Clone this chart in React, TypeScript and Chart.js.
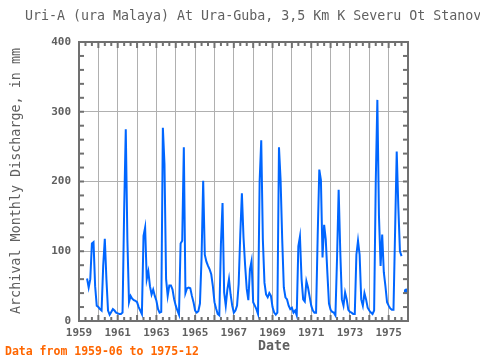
import React, { useEffect, useRef } from "react";
import { Chart, registerables } from "chart.js";

Chart.register(...registerables);

const TITLE = "Uri-A (ura Malaya) At Ura-Guba, 3,5 Km K Severu Ot Stanovishcha Ura-Guba";
const Y_TITLE = "Archival Monthly Discharge, in mm";
const X_TITLE = "Date";
const NOTE = "Data from 1959-06 to 1975-12";

const START_YEAR = 1959;
const START_MONTH_INDEX = 5; // June
const X_MIN = 1959;
const X_MAX = 1976;
const Y_MAX = 400;

const v1959 = [61, 48, 60, 111, 113, 50, 22];
const v1960 = [20, 17, 15, 79, 118, 60, 15, 9, 13, 17, 15, 12];
const v1961 = [11, 10, 10, 12, 159, 275, 117, 27, 36, 32, 30, 29];
const v1962 = [27, 20, 15, 10, 122, 134, 60, 71, 50, 38, 45, 36];
const v1963 = [29, 17, 12, 13, 277, 225, 60, 36, 51, 51, 45, 31];
const v1964 = [22, 15, 9, 111, 115, 249, 40, 47, 48, 47, 36, 27];
const v1965 = [15, 12, 14, 25, 91, 201, 95, 85, 79, 74, 67, 50];
const v1966 = [27, 18, 10, 8, 110, 169, 41, 22, 45, 60, 38, 22];
const v1967 = [12, 15, 22, 53, 124, 183, 120, 80, 46, 30, 74, 86];
const v1968 = [27, 22, 17, 10, 200, 259, 117, 55, 38, 34, 40, 36];
const v1969 = [20, 12, 9, 12, 249, 202, 117, 48, 34, 31, 22, 17];
const v1970 = [19, 12, 15, 8, 107, 121, 60, 31, 28, 57, 48, 35];
const v1971 = [22, 15, 12, 12, 122, 217, 202, 91, 138, 117, 69, 25];
const v1972 = [16, 13, 12, 8, 90, 188, 100, 31, 22, 41, 31, 16];
const v1973 = [13, 12, 10, 10, 95, 115, 95, 31, 22, 40, 31, 19];
const v1974 = [15, 12, 10, 15, 198, 317, 150, 79, 124, 70, 50, 27];
const v1975 = [22, 18, 16, 16, 129, 243, 164, 100, 93, null, null, 43];

const monthly: (number | null)[] = [
  ...v1959, ...v1960, ...v1961, ...v1962, ...v1963, ...v1964, ...v1965, ...v1966,
  ...v1967, ...v1968, ...v1969, ...v1970, ...v1971, ...v1972, ...v1973, ...v1974, ...v1975,
];

const MONO = "'DejaVu Sans Mono', 'Liberation Mono', monospace";
const TEXT_GRAY = "#606060";
const AXIS_GRAY = "#707070";
const GRID_GRAY = "#b0b0b0";
const LINE_BLUE = "#0066ff";

const decorPlugin = {
  id: "decor",
  afterDraw(chart: any) {
    const { ctx, chartArea, scales } = chart;
    const { left, right, top, bottom } = chartArea;
    const xs = scales.x;
    const ys = scales.y;
    ctx.save();
    ctx.strokeStyle = AXIS_GRAY;
    ctx.lineWidth = 2;
    const seg = (x1: number, y1: number, x2: number, y2: number) => {
      ctx.beginPath();
      ctx.moveTo(x1, y1);
      ctx.lineTo(x2, y2);
      ctx.stroke();
    };
    for (let v = 0; v <= Y_MAX; v += 20) {
      const py = ys.getPixelForValue(v);
      seg(left, py, left + 5, py);
      seg(right - 5, py, right, py);
    }
    for (let k = 0; k <= (X_MAX - X_MIN) * 3; k++) {
      const px = xs.getPixelForValue(X_MIN + k / 3);
      const len = k % 3 === 0 ? 6 : 4;
      seg(px, top, px, top + len);
      seg(px, bottom - len, px, bottom);
    }
    ctx.strokeRect(left, top, right - left, bottom - top);

    ctx.fillStyle = TEXT_GRAY;
    ctx.font = `13.3px ${MONO}`;
    ctx.textAlign = "left";
    ctx.textBaseline = "middle";
    ctx.fillText(TITLE, 25, 17);

    ctx.font = `bold 13.3px ${MONO}`;
    ctx.textAlign = "center";
    ctx.fillText(X_TITLE, 274, 347);

    ctx.save();
    ctx.translate(17, 181);
    ctx.rotate(-Math.PI / 2);
    ctx.font = `13.4px ${MONO}`;
    ctx.fillText(Y_TITLE, 0, 0);
    ctx.restore();

    ctx.fillStyle = "#ff6600";
    ctx.font = `bold 11.5px ${MONO}`;
    ctx.textAlign = "left";
    ctx.fillText(NOTE, 5, 352);
    ctx.restore();
  },
};

export default function App() {
  const canvasRef = useRef<HTMLCanvasElement | null>(null);
  useEffect(() => {
    if (!canvasRef.current) return;
    const points = monthly.map((y, k) => ({
      x: START_YEAR + (START_MONTH_INDEX + k) / 12,
      y,
    }));
    const isolated = (ctx: any) => {
      const d = ctx.dataset.data;
      const i = ctx.dataIndex;
      if (d[i] == null || d[i].y == null) return 0;
      const prev = i > 0 ? d[i - 1].y : null;
      const next = i < d.length - 1 ? d[i + 1].y : null;
      return prev == null && next == null ? 2.5 : 0;
    };
    const chart = new Chart(canvasRef.current, {
      type: "line",
      data: {
        datasets: [
          {
            data: points as any,
            borderColor: LINE_BLUE,
            backgroundColor: LINE_BLUE,
            borderWidth: 2,
            pointRadius: isolated as any,
            pointBorderWidth: 0,
            pointBackgroundColor: LINE_BLUE,
            tension: 0,
            spanGaps: false,
            fill: false,
          },
        ],
      },
      options: {
        responsive: false,
        animation: false,
        layout: { padding: { top: 42, right: 72, left: 0, bottom: 0 } },
        plugins: { legend: { display: false }, tooltip: { enabled: false }, title: { display: false } },
        scales: {
          x: {
            type: "linear",
            min: X_MIN,
            max: X_MAX,
            afterFit: (s: any) => {
              s.height = 39;
            },
            border: { display: false },
            grid: { color: GRID_GRAY, lineWidth: 1, drawTicks: false },
            ticks: {
              stepSize: 1,
              autoSkip: false,
              maxRotation: 0,
              padding: 6,
              color: TEXT_GRAY,
              font: { family: MONO, size: 11, weight: "bold" },
              callback: (v: any) => ((v - X_MIN) % 2 === 0 && v < X_MAX ? String(v) : ""),
            },
          },
          y: {
            min: 0,
            max: Y_MAX,
            afterFit: (s: any) => {
              s.width = 79;
            },
            border: { display: false },
            grid: { color: GRID_GRAY, lineWidth: 1, drawTicks: false },
            ticks: {
              stepSize: 100,
              padding: 8,
              color: TEXT_GRAY,
              font: { family: MONO, size: 11, weight: "bold" },
            },
          },
        },
      },
      plugins: [decorPlugin],
    });
    return () => chart.destroy();
  }, []);
  return (
    <div style={{ position: "fixed", left: 0, top: 0, width: 480, height: 360, background: "#fff" }}>
      <canvas ref={canvasRef} width={480} height={360} />
    </div>
  );
}
